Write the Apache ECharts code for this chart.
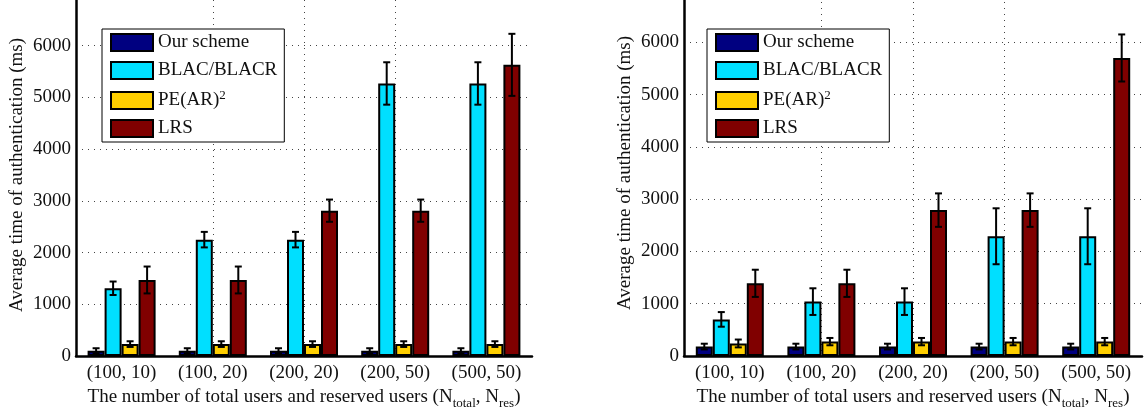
<!DOCTYPE html>
<html>
<head>
<meta charset="utf-8">
<title>Authentication time</title>
<script src="https://cdn.jsdelivr.net/npm/echarts@6/dist/echarts.min.js"></script>
</head>
<body style="margin:0">
<div id="main" style="width:1144px;height:413px;"></div>
<script type="text/javascript">
// categories (N_total, N_res)
var categories = ['(100, 10)', '(100, 20)', '(200, 20)', '(200, 50)', '(500, 50)'];
var schemes = ['Our scheme', 'BLAC/BLACR', 'PE(AR)2', 'LRS'];

// left chart: mean values and error half-widths (ms)
var leftOurs = [100, 100, 100, 100, 100];
var leftOursErr = [50, 50, 50, 50, 50];
var leftBlac = [1310, 2250, 2250, 5270, 5270];
var leftBlacErr = [130, 150, 150, 410, 410];
var leftPe = [230, 230, 230, 230, 230];
var leftPeErr = [55, 55, 55, 55, 55];
var leftLrs = [1470, 1470, 2810, 2810, 5630];
var leftLrsErr = [260, 260, 215, 215, 600];

// right chart
var rightOurs = [180, 180, 180, 180, 180];
var rightOursErr = [55, 55, 55, 55, 55];
var rightBlac = [700, 1040, 1040, 2290, 2290];
var rightBlacErr = [140, 255, 255, 535, 535];
var rightPe = [240, 275, 275, 275, 275];
var rightPeErr = [75, 70, 70, 70, 70];
var rightLrs = [1390, 1390, 2790, 2790, 5700];
var rightLrsErr = [260, 260, 320, 320, 450];

var colors = ['#000080', '#00dfff', '#ffcf00', '#800000'];
var FONT = 'Liberation Serif';
var BAR_W = 17;
var gridLine = {color: '#444', type: [1, 5], width: 1};

var myChart = echarts.init(document.getElementById('main'));

function barSeries(name, vals, k, axis) {
	return {
		name: name,
		type: 'bar',
		xAxisIndex: axis,
		yAxisIndex: axis,
		data: vals,
		barWidth: BAR_W,
		barGap: '0%',
		itemStyle: {color: colors[k], borderColor: '#000', borderWidth: 2},
		emphasis: {disabled: true}
	};
}

function errSeries(vals, errs, k, axis) {
	return {
		type: 'custom',
		xAxisIndex: axis,
		yAxisIndex: axis,
		z: 5,
		silent: true,
		data: vals.map(function(v, i) { return [i, v - errs[i], v + errs[i]]; }),
		encode: {x: 0, y: [1, 2]},
		renderItem: function(params, api) {
			var lo = api.coord([api.value(0), api.value(1)]);
			var hi = api.coord([api.value(0), api.value(2)]);
			var x = lo[0] + (k - 1.5) * BAR_W;
			var style = {stroke: '#000', lineWidth: 2};
			return {
				type: 'group',
				children: [
					{type: 'line', shape: {x1: x, y1: lo[1], x2: x, y2: hi[1]}, style: style},
					{type: 'line', shape: {x1: x - 3.5, y1: lo[1], x2: x + 3.5, y2: lo[1]}, style: style},
					{type: 'line', shape: {x1: x - 3.5, y1: hi[1], x2: x + 3.5, y2: hi[1]}, style: style}
				]
			};
		}
	};
}

function xAxisOpt(idx) {
	return {
		type: 'category',
		gridIndex: idx,
		data: categories,
		axisLine: {lineStyle: {color: '#000', width: 2.5}},
		axisTick: {show: false},
		axisLabel: {color: '#111', fontFamily: FONT, fontSize: 19, margin: 8},
		splitLine: {show: false},
		name: 'The number of total users and reserved users (N{sub|total}, N{sub|res})',
		nameLocation: 'middle',
		nameGap: 29,
		nameTextStyle: {
			color: '#111', fontFamily: FONT, fontSize: 19,
			rich: {sub: {fontFamily: FONT, fontSize: 13, color: '#111', padding: [12, 0, 0, 0]}}
		}
	};
}

// hidden half-step axis (edge to edge): odd split lines fall on the category centres
function centreAxisOpt(idx) {
	var halves = [''];
	categories.forEach(function(c) { halves.push(c, c + ' '); });
	return {
		type: 'category',
		gridIndex: idx,
		boundaryGap: false,
		data: halves,
		axisLine: {show: false},
		axisTick: {show: false},
		axisLabel: {show: false},
		splitLine: {
			show: true,
			showMinLine: false,
			showMaxLine: false,
			interval: function(i) { return i % 2 === 1; },
			lineStyle: gridLine
		}
	};
}

function yAxisOpt(idx) {
	return {
		type: 'value',
		gridIndex: idx,
		min: 0,
		max: 7000,
		interval: 1000,
		axisLine: {show: true, lineStyle: {color: '#000', width: 2.5}},
		axisTick: {show: false},
		axisLabel: {color: '#111', fontFamily: FONT, fontSize: 19, margin: 5, showMaxLabel: false,
			formatter: function(v) { return String(v); }},
		splitLine: {show: true, lineStyle: gridLine},
		name: 'Average time of authentication (ms)',
		nameLocation: 'middle',
		nameGap: 49,
		nameTextStyle: {color: '#111', fontFamily: FONT, fontSize: 19}
	};
}

function legendOpt(left) {
	return {
		orient: 'vertical',
		left: left,
		top: 29,
		data: schemes,
		icon: 'rect',
		itemWidth: 42,
		itemHeight: 17,
		itemGap: 9,
		itemTextGap: 4,
		padding: [4, 7, 4, 8],
		borderColor: '#000',
		borderWidth: 1,
		backgroundColor: '#fff',
		selectedMode: false,
		formatter: function(name) { return name === 'PE(AR)2' ? 'PE(AR){sup|2}' : name; },
		textStyle: {
			color: '#111', fontFamily: FONT, fontSize: 19,
			rich: {sup: {fontFamily: FONT, fontSize: 13, color: '#111', padding: [0, 0, 10, 0]}}
		}
	};
}

var leftSets = [[leftOurs, leftOursErr], [leftBlac, leftBlacErr], [leftPe, leftPeErr], [leftLrs, leftLrsErr]];
var rightSets = [[rightOurs, rightOursErr], [rightBlac, rightBlacErr], [rightPe, rightPeErr], [rightLrs, rightLrsErr]];

var series = [];
[leftSets, rightSets].forEach(function(sets, axis) {
	sets.forEach(function(s, k) {
		series.push(barSeries(schemes[k], s[0], k, axis));
	});
	sets.forEach(function(s, k) {
		series.push(errSeries(s[0], s[1], k, axis));
	});
});

var option = {
	animation: false,
	backgroundColor: '#fff',
	grid: [
		{left: 76, right: 612, top: -6, bottom: 57, outerBoundsMode: 'none'},
		{left: 684, right: 2, top: -10, bottom: 57, outerBoundsMode: 'none'}
	],
	legend: [legendOpt(102), legendOpt(707)],
	xAxis: [xAxisOpt(0), xAxisOpt(1), centreAxisOpt(0), centreAxisOpt(1)],
	yAxis: [yAxisOpt(0), yAxisOpt(1)],
	series: series
};

myChart.setOption(option);
</script>
</body>
</html>
